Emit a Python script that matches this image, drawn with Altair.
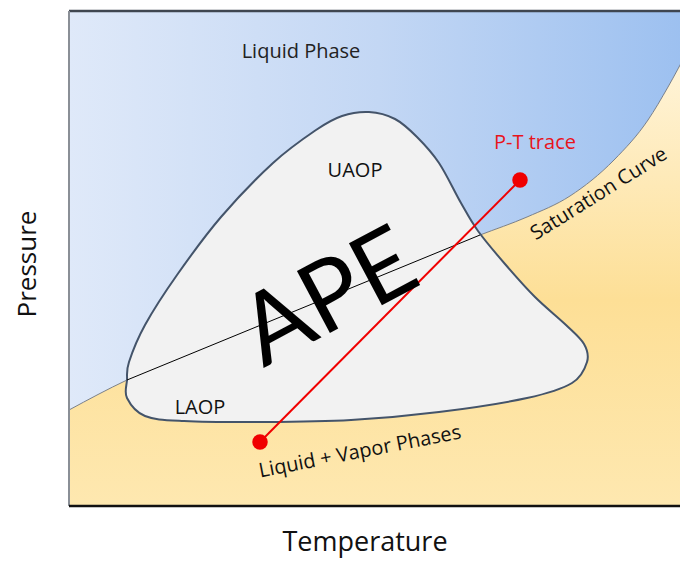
import altair as alt
import pandas as pd

W, H = 611, 495
FONT = "Open Sans"

# Saturation curve (temperature, pressure) in arbitrary diagram units
sat_T = [0, 58, 131, 231, 331, 411, 458, 501, 545, 579, 599, 619]
sat_P = [96, 126, 156, 198, 239, 271, 289, 310, 346, 386, 419, 456]
P_TOP = 495

# APE envelope outline
ape_T = [58, 60, 76, 108, 152, 204, 247, 273, 300, 326, 348, 370, 392, 409, 436,
         466, 497, 515, 518, 503, 458, 370, 282, 194, 115, 76, 58]
ape_P = [126, 144, 181, 231, 289, 343, 376, 390, 394, 387, 369, 343, 303, 275, 242,
         209, 181, 162, 144, 123, 108, 94, 86, 84, 85, 90, 108]

# Saturation chord through the APE envelope
chord_T = [58, 411]
chord_P = [126, 271]

# P-T trace
trace_T = [191, 451]
trace_P = [64, 326]

# Annotations
lab_text = ["Liquid Phase", "UAOP", "LAOP", "P-T trace", "Saturation Curve",
            "Liquid + Vapor Phases"]
lab_T = [232, 286, 131, 466, 530, 291]
lab_P = [454, 335, 98, 363, 312, 54]
lab_angle = [0, 0, 0, 0, 328, 349]
lab_color = ["#222222", "#111111", "#111111", "#e8141c", "#111111", "#111111"]

big_text = ["APE"]
big_T = [261]
big_P = [206]
big_angle = [332]

sat = pd.DataFrame({"T": sat_T, "P": sat_P, "top": [P_TOP] * len(sat_T), "bot": [0] * len(sat_T)})
ape = pd.DataFrame({"T": ape_T, "P": ape_P, "i": list(range(len(ape_T)))})
chord = pd.DataFrame({"T": chord_T, "P": chord_P})
trace = pd.DataFrame({"T": trace_T, "P": trace_P})
labels = pd.DataFrame({"text": lab_text, "T": lab_T, "P": lab_P,
                       "angle": lab_angle, "color": lab_color})
big = pd.DataFrame({"text": big_text, "T": big_T, "P": big_P, "angle": big_angle})

xs = alt.Scale(domain=[0, W])
ys = alt.Scale(domain=[0, H])
X = alt.X("T:Q", scale=xs, axis=None)
Y = alt.Y("P:Q", scale=ys, axis=None)

blue = alt.Chart(sat).mark_area(
    interpolate="monotone",
    color=alt.Gradient(gradient="linear", x1=0, x2=1, y1=0, y2=0,
                       stops=[alt.GradientStop(color="#dfe9f9", offset=0),
                              alt.GradientStop(color="#c3d7f4", offset=0.5),
                              alt.GradientStop(color="#9cc0f0", offset=1)]),
).encode(x=X, y=Y, y2="top:Q")

yellow = alt.Chart(sat).mark_area(
    interpolate="monotone",
    color=alt.Gradient(gradient="linear", x1=0, x2=0, y1=0, y2=1,
                       stops=[alt.GradientStop(color="#fff5dc", offset=0),
                              alt.GradientStop(color="#fddf96", offset=0.55),
                              alt.GradientStop(color="#fee8b0", offset=1)]),
).encode(x=X, y=Y, y2="bot:Q")

edge = alt.Chart(sat).mark_line(interpolate="monotone", color="#6b7380", strokeWidth=0.9).encode(x=X, y=Y)

blob = alt.Chart(ape).mark_line(
    interpolate="cardinal-closed", fill="#f2f2f2", stroke="#44546a", strokeWidth=2
).encode(x=X, y=Y, order="i:Q")

chord_line = alt.Chart(chord).mark_line(color="#000000", strokeWidth=1).encode(x=X, y=Y)

trace_line = alt.Chart(trace).mark_line(color="#f00000", strokeWidth=2).encode(x=X, y=Y)
trace_pts = alt.Chart(trace).mark_point(filled=True, shape="circle", size=240, color="#f00000", opacity=1).encode(x=X, y=Y)

texts = alt.Chart(labels).mark_text(font=FONT, fontSize=20, baseline="middle", align="center").encode(
    x=X, y=Y, text="text:N",
    angle=alt.Angle("angle:Q", scale=None),
    color=alt.Color("color:N", scale=None),
)
ape_text = alt.Chart(big).mark_text(font="Lato", fontSize=98, baseline="middle", align="center",
                                    color="#000000").encode(
    x=X, y=Y, text="text:N", angle=alt.Angle("angle:Q", scale=None))

one = pd.DataFrame({"a": [0]})
frame_top = alt.Chart(one).mark_rule(color="#3f4650", strokeWidth=2.5).encode(
    x=alt.value(0), x2=alt.value(W), y=alt.value(0))
frame_left = alt.Chart(one).mark_rule(color="#8a8f96", strokeWidth=2).encode(
    x=alt.value(0), y=alt.value(0), y2=alt.value(H))
frame_bottom = alt.Chart(one).mark_rule(color="#111111", strokeWidth=2.5).encode(
    x=alt.value(0), x2=alt.value(W), y=alt.value(H))

title_y = alt.Chart(one).mark_text(font=FONT, fontSize=26, angle=270, color="#111111",
                                   align="center", baseline="middle").encode(
    x=alt.value(-41), y=alt.value(253), text=alt.value("Pressure"))
title_x = alt.Chart(one).mark_text(font=FONT, fontSize=27, color="#111111",
                                   align="center", baseline="alphabetic").encode(
    x=alt.value(296), y=alt.value(540), text=alt.value("Temperature"))

chart = alt.layer(
    blue, yellow, edge, blob, chord_line, trace_line, trace_pts, texts, ape_text,
    frame_top, frame_left, frame_bottom, title_y, title_x
).properties(
    width=W, height=H,
    padding={"left": 61, "top": 3, "right": 0, "bottom": 53},
    autosize="none",
).configure_view(stroke=None)

chart.save("out.html", embed_options={"renderer": "svg", "actions": False})
